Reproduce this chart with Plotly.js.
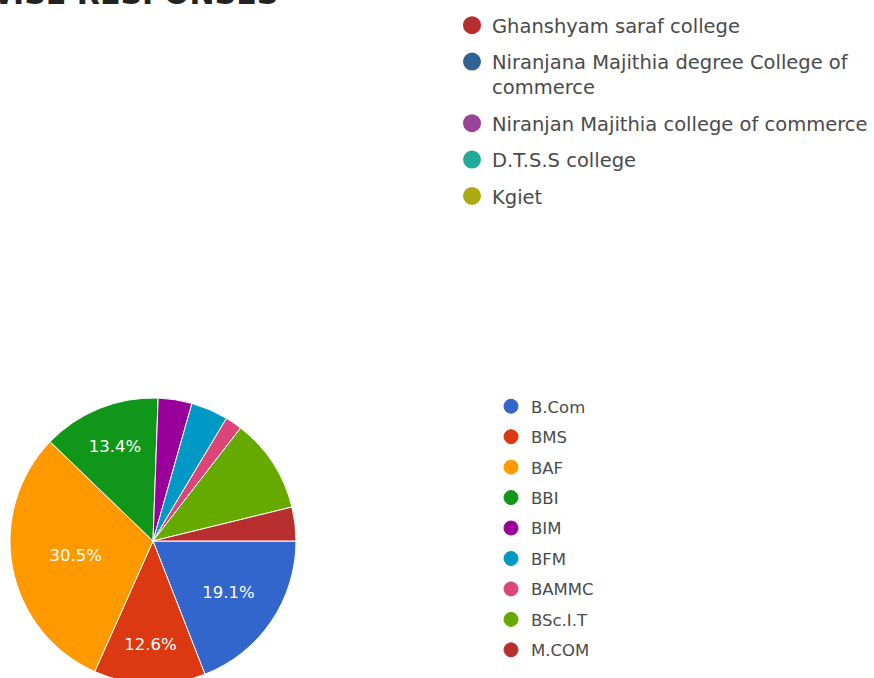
<!DOCTYPE html>
<html>
<head>
<meta charset="utf-8">
<script src="https://cdn.plot.ly/plotly-3.0.1.min.js"></script>
<style>
html,body{margin:0;padding:0;background:#fff;overflow:hidden;}
#frame{width:874px;height:678px;overflow:hidden;position:relative;}
#chart{width:874px;height:690px;}
</style>
</head>
<body>
<div id="frame"><div id="chart"></div></div>
<script>
// Course-wise responses (bottom pie)
const courses = ["B.Com", "BMS", "BAF", "BBI", "BIM", "BFM", "BAMMC", "BSc.I.T", "M.COM"];
const courseCounts = [50, 33, 80, 35, 10, 11, 5, 28, 10];
const courseColors = ["#3366cc", "#dc3912", "#ff9900", "#109618", "#990099", "#0099c6", "#dd4477", "#66aa00", "#b82e2e"];

// Visible part of the college legend (top chart)
const colleges = ["Ghanshyam saraf college", "Niranjana Majithia degree College of<br>commerce", "Niranjan Majithia college of commerce", "D.T.S.S college", "Kgiet"];
const collegeColors = ["#b82e2e", "#316395", "#994499", "#22aa99", "#aaaa11"];

const titleText = "WISE RESPONSES";

const FONT = "DejaVu Sans, Liberation Sans, Arial, sans-serif";
const W = 874, H = 690;

const total = courseCounts.reduce((a, b) => a + b, 0);
const labelTemplates = courseCounts.map(v => (v / total >= 0.12 ? "%{percent:.1%}" : ""));

const traces = [];
traces.push({
  type: "pie",
  labels: courses,
  values: courseCounts,
  sort: false,
  direction: "clockwise",
  rotation: 90,
  marker: {colors: courseColors, line: {color: "#ffffff", width: 1}},
  texttemplate: labelTemplates,
  textposition: "inside",
  insidetextorientation: "horizontal",
  textfont: {family: FONT, size: 16.5, color: "#ffffff"},
  showlegend: false,
  hoverinfo: "label+percent",
  domain: {x: [10 / W, 296 / W], y: [(H - 684) / H, (H - 398) / H]}
});

courses.forEach((c, i) => {
  traces.push({
    type: "scatter", mode: "markers", x: [null], y: [null],
    name: c, legendgroup: "c" + i, legend: "legend",
    marker: {size: 14, color: courseColors[i], line: {color: courseColors[i], width: 1}},
    showlegend: true, hoverinfo: "skip"
  });
});

colleges.forEach((c, i) => {
  traces.push({
    type: "scatter", mode: "markers", x: [null], y: [null],
    name: c, legendgroup: "g" + i, legend: "legend2",
    marker: {size: 16, color: collegeColors[i], line: {color: collegeColors[i], width: 2}},
    showlegend: true, hoverinfo: "skip"
  });
});

const layout = {
  width: W, height: H,
  margin: {l: 0, r: 0, t: 0, b: 0},
  paper_bgcolor: "#ffffff", plot_bgcolor: "#ffffff",
  xaxis: {visible: false, domain: [0.99, 1]},
  yaxis: {visible: false, domain: [0.99, 1]},
  legend: {
    x: 491 / W, y: (H - 389) / H, xanchor: "left", yanchor: "top",
    font: {family: FONT, size: 16.5, color: "#4a4a4a"},
    tracegroupgap: 6, bgcolor: "rgba(0,0,0,0)", itemclick: false, itemdoubleclick: false
  },
  legend2: {
    x: 452 / W, y: (H - 6) / H, xanchor: "left", yanchor: "top",
    font: {family: FONT, size: 19.5, color: "#4a4a4a"},
    tracegroupgap: 8, valign: "top", bgcolor: "rgba(0,0,0,0)", itemclick: false, itemdoubleclick: false
  },
  annotations: [{
    text: titleText, showarrow: false,
    xref: "paper", yref: "paper",
    x: 280 / W, xanchor: "right",
    y: (H - 13) / H, yanchor: "bottom",
    font: {family: FONT, size: 30, color: "#222222", weight: "bold"}
  }]
};

Plotly.newPlot("chart", traces, layout, {displayModeBar: false});
</script>
</body>
</html>
